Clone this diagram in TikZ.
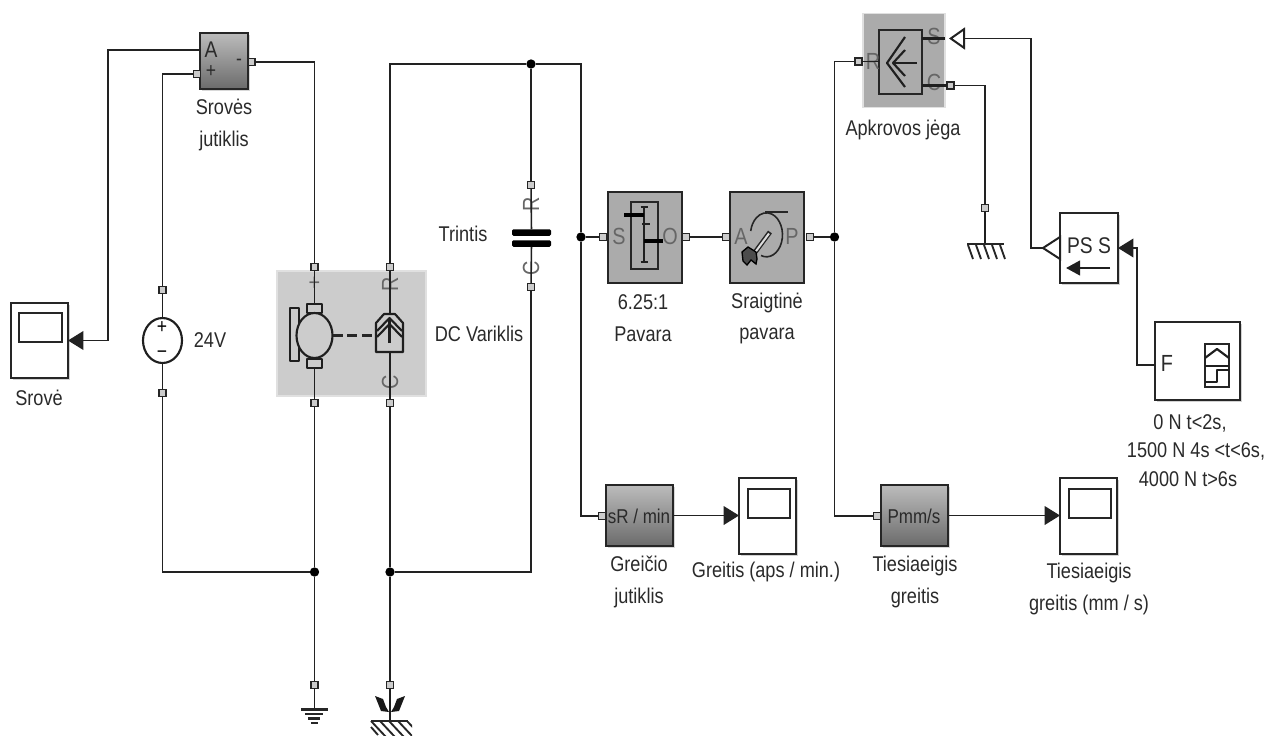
\documentclass[tikz,border=0pt]{standalone}
\usepackage{fontspec}
\setmainfont[FakeStretch=0.85]{Liberation Sans}
\usetikzlibrary{arrows.meta,shadows,shapes.geometric}
\definecolor{txt}{HTML}{2A2A2A}
\definecolor{ptxt}{HTML}{666666}
\definecolor{mid}{HTML}{ABABAB}
\definecolor{lite}{HTML}{CCCCCC}
\definecolor{wirec}{HTML}{222222}
\tikzset{
  sz/.style 2 args={minimum width=#1*0.75pt,minimum height=#2*0.75pt,inner sep=0pt,outer sep=0pt},
  wire/.style={draw=wirec,line width=1.05pt,line join=miter},
  sym/.style={draw=black!88,line width=1.6pt,line join=round},
  port/.style={draw=black!85,fill=lite,line width=1.25pt,minimum size=5.4pt,inner sep=0pt,outer sep=0pt},
  junc/.style={circle,fill=black,minimum size=7pt,inner sep=0pt,outer sep=0pt},
  lbl/.style={text=txt,font=\fontsize{16}{18}\selectfont,inner sep=0pt,align=center},
  ptext/.style={text=ptxt,font=\fontsize{17.5}{18}\selectfont,inner sep=0pt},
  btext/.style={text=txt,font=\fontsize{15.5}{18}\selectfont,inner sep=0pt},
  sens/.style={draw=black!85,line width=1.5pt,top color=mid!80!white,bottom color=black!58,drop shadow={shadow xshift=1.5pt,shadow yshift=-1.5pt,opacity=.3}},
  gblock/.style={draw=black!85,line width=1.5pt,fill=mid},
  sblock/.style={draw=black!85,line width=1.5pt,fill=white,drop shadow={shadow xshift=1.5pt,shadow yshift=-1.5pt,opacity=.35}},
  inner box/.style={draw=black!85,line width=1.5pt,fill=none},
  sig/.style={wire,-{Triangle[length=11.5pt,width=14pt]}},
  psig/.style={wire,-{Triangle[open,length=12pt,width=16.5pt,line width=1.5pt]}},
}
\begin{document}
\begin{tikzpicture}[x=0.75pt,y=-0.75pt]
\useasboundingbox (0,0) rectangle (1269,735);
\fill[white] (0,0) rectangle (1269,735);

% --- blocks
\node[sblock,sz={57}{75}] (srove) at (39.5,340.5) {};
\node[inner box,sz={43}{29}] (sroveS) at (40.5,327.5) {};
\node[lbl] (lSrove) at (39,398) {Srovė};

\node[sens,sz={48}{56}] (cur) at (224,61) {};
\node[btext,font=\fontsize{17}{18}\selectfont] (curA) at (211,50) {A};
\node[btext] (curP) at (211,72) {+};
\node[btext] (curM) at (239,62) {-};
\coordinate (curOut) at (200,50);
\node[lbl] (lCur) at (224,125) {Srovės\\[5.5pt]jutiklis};

% voltage source
\node[draw=black!88,line width=1.6pt,ellipse,sz={39}{45},fill=white] (vs) at (162.5,340.5) {};
\node[btext,text=black] (vsP) at (162,328) {+};
\node[btext,text=black] (vsM) at (162,355) {−};
\node[lbl] (l24) at (210,340) {24V};

% DC motor
\node[draw=white!88!black,line width=1.2pt,fill=lite,sz={149}{125}] (dc) at (351.5,333.5) {};
\node[sym,fill=lite,sz={9}{53}] (field) at (294.5,334.5) {};
\node[sym,fill=lite,sz={15}{9}] (brT) at (314.5,308.5) {};
\node[sym,fill=lite,sz={15}{9}] (brB) at (314.5,363.5) {};
\node[sym,ellipse,fill=lite,sz={36}{45}] (arm) at (314.5,335.5) {};
\path[sym,fill=lite] (376,352) -- (376,323) -- (384,314) -- (395,314) -- (403,323) -- (403,352) -- cycle;
\coordinate (shaftL) at (376,335.5);
\draw[sym] (377,331) -- (389.5,318) -- (402,331);
\draw[sym] (377,337) -- (389.5,324) -- (402,337);
\draw[sym] (389.5,343) -- (389.5,320);
\draw[black!85,line width=1.7pt,dash pattern=on 7.5pt off 3.5pt] (arm.east) -- (shaftL);
\node[ptext] (dcP) at (314.5,284) {+};
\node[ptext,rotate=90] (dcR) at (390,284) {R};
\node[ptext,rotate=90] (dcC) at (390,382) {C};
\node[lbl] (lDc) at (479,334) {DC Variklis};

% friction clutch
\node[ptext,rotate=90] (trR) at (531,204) {R};
\node[ptext,rotate=90] (trC) at (531,268) {C};
\node[fill=black,rounded corners=1pt,sz={39}{6.5}] (plateT) at (531.5,232.5) {};
\node[fill=black,rounded corners=1pt,sz={39}{6.5}] (plateB) at (531.5,243.5) {};
\node[lbl] (lTr) at (463,234) {Trintis};

% gear
\node[gblock,sz={74}{91}] (gear) at (645,237.5) {};
\node[inner box,line width=1.2pt,sz={27}{67}] (gearI) at (644.5,235.5) {};
\draw[sym,line width=1.1pt] (644,207) -- (644,262) (640.5,207) -- (648,207) (640.5,262) -- (648,262) (642,224) -- (650,224);
\draw[black,line width=3.2pt] (624,215) -- (644,215);
\draw[black,line width=3.2pt] (644,241) -- (663,241);
\node[ptext] (gS) at (619,236) {S};
\node[ptext] (gO) at (670,236) {O};
\node[lbl] (lGear) at (643,318) {6.25:1\\[5.5pt]Pavara};

% lead screw
\node[gblock,sz={74}{91}] (screw) at (767,237.5) {};
\node[ptext] (sA) at (741,236) {A};
\node[ptext] (sP) at (792,236) {P};
\draw[black!85,line width=1.2pt] (761,255.5) arc[start angle=110,end angle=-170,x radius=16,y radius=22];
\draw[black!85,line width=1.2pt] (765,212) -- (788,212);
\draw[black!85,line width=3.6pt] (770,232) -- (753,255);
\draw[mid!40!white,line width=1.5pt] (769,233.5) -- (755,252.5);
\draw[black,line width=1pt,fill=black!70] (742,252) -- (748,247) -- (756,252) -- (757,259) -- (756,264) -- (751,260) -- (747,265) -- (743,261) -- cycle;
\node[lbl] (lScrew) at (767,318.5) {Sraigtinė\\[5.5pt]pavara};

% load force source
\node[draw=white!88!black,line width=1.2pt,fill=mid,sz={82}{94}] (load) at (904,60.5) {};
\node[inner box,sz={43}{64}] (loadI) at (900.5,62) {};
\draw[sym] (905,37) -- (887,63) -- (905,87);
\draw[sym] (905,50) -- (893,63) -- (905,76);
\draw[sym] (893,63) -- (917,63);
\node[ptext] (loadR) at (873,61) {R};
\node[ptext] (loadS) at (934,36) {S};
\node[ptext] (loadC) at (934,82) {C};
\coordinate (loadIn) at (949,38.5);
\node[lbl] (lLoad) at (903,130) {Apkrovos jėga};

% PS-S converter
\node[sblock,sz={58}{70}] (pss) at (1089,248) {};
\node[btext,font=\fontsize{17}{18}\selectfont] (pssT) at (1089,246) {PS S};
\draw[sym,-{Triangle[length=10.5pt,width=11pt]}] (1110,268) -- (1066,268);
\coordinate (pssTip) at (1043,248);
\draw[wire,line width=1.5pt,fill=white] (pss.west |- 0,237) -- (pssTip) -- (pss.west |- 0,259) -- cycle;

% force source
\node[sblock,sz={85}{78}] (src) at (1197.5,361) {};
\node[ptext,text=txt] (srcF) at (1167,363) {F};
\node[inner box,sz={24}{43}] (srcI) at (1217,365.5) {};
\draw[sym] (1205,366) -- (1229,366);
\draw[sym] (1205,358) -- (1217,349) -- (1229,358);
\draw[sym] (1205,382) -- (1217,382) -- (1217,370) -- (1229,370);
\coordinate (srcOut) at (1155,365);
\node[lbl] (lSrc1) at (1190,423) {0 N t<2s,};
\node[lbl] (lSrc2) at (1196,451) {1500 N 4s <t<6s,};
\node[lbl] (lSrc3) at (1188,479) {4000 N t>6s};

% sensors and scopes below
\node[sens,sz={67}{61}] (rs) at (639.5,515.5) {};
\node[btext,font=\fontsize{15}{18}\selectfont] (rsT) at (639,516) {sR / min};
\node[sblock,sz={57}{76}] (sc1) at (767.5,515.5) {};
\node[inner box,sz={42}{29}] (sc1I) at (769,503.5) {};
\node[lbl] (lRs) at (639,582) {Greičio\\[5.5pt]jutiklis};
\node[lbl] (lSc1) at (766,572) {Greitis (aps / min.)};

\node[sens,sz={67}{61}] (ps) at (914,515.5) {};
\node[btext,font=\fontsize{15}{18}\selectfont] (psT) at (914,516) {Pmm/s};
\node[sblock,sz={57}{76}] (sc2) at (1088.5,515.5) {};
\node[inner box,sz={42}{29}] (sc2I) at (1090,503.5) {};
\node[lbl] (lPs) at (915,582) {Tiesiaeigis\\[5.5pt]greitis};
\node[lbl] (lSc2) at (1089,589) {Tiesiaeigis\\[5.5pt]greitis (mm / s)};

% --- ports
\node[port] (pCurP) at (197,74) {};
\node[port] (pCurM) at (251.5,62) {};
\node[port] (pVsP) at (162.5,290) {};
\node[port] (pVsM) at (162.5,393) {};
\node[port] (pDcP) at (314.5,267) {};
\node[port] (pDcR) at (390,267) {};
\node[port] (pDcN) at (314.5,403) {};
\node[port] (pDcC) at (390,403) {};
\node[port] (pTrR) at (531,185) {};
\node[port] (pTrC) at (531,287) {};
\node[port] (pGS) at (603,237) {};
\node[port] (pGO) at (686,237) {};
\node[port] (pSA) at (726,237) {};
\node[port] (pSP) at (810,237) {};
\node[port] (pLR) at (858.5,61.5) {};
\node[port] (pLC) at (950.5,85.5) {};
\node[port] (pGnd) at (985,208) {};
\node[port] (pRs) at (602,516) {};
\node[port] (pPs) at (877,516) {};
\node[port] (pEl) at (314.5,685) {};
\node[port] (pMe) at (390,685) {};

% --- junctions
\node[junc] (jTop) at (531,64) {};
\node[junc] (jGS) at (581,237) {};
\node[junc] (jSP) at (834.5,237) {};
\node[junc] (jEl) at (314.5,572) {};
\node[junc] (jMe) at (390,572) {};

% --- stubs through the blocks
\draw[sym,line width=1.2pt] (pDcP) -- (brT) (brB) -- (pDcN);
\draw[sym,line width=1.2pt] (pDcR) -- (390,314) (390,352) -- (pDcC);
\draw[sym,line width=1.2pt] (pTrR) -- (plateT) (plateB) -- (pTrC);
\draw[sym,line width=1.2pt] (pVsP) -- (vs) (vs) -- (pVsM);
\draw[sym,line width=1.2pt] (pLR) -- (loadI.west |- pLR);
\draw[sym] (loadI.east |- loadIn) -- (945,38.5);
\draw[sym] (loadI.east |- pLC) -- (pLC);

% --- connectors
\draw[sig] (curOut) -- ++(-92,0) |- (srove.east);
\draw[wire] (pCurP) -| (pVsP);
\draw[wire] (pCurM) -| (pDcP);
\draw[wire] (pVsM) |- (jEl);
\draw[wire] (pDcN) -- (jEl);
\draw[wire] (jEl) -- (pEl);
\draw[wire] (pDcR) |- (jTop);
\draw[wire] (jTop) -- (pTrR);
\draw[wire] (pTrC) |- (jMe);
\draw[wire] (pDcC) -- (jMe);
\draw[wire] (jMe) -- (pMe);
\draw[wire] (jTop) -| (jGS);
\draw[wire] (jGS) -- (pGS);
\draw[wire] (jGS) |- (pRs);
\draw[wire] (pGO) -- (pSA);
\draw[wire] (pSP) -- (jSP);
\draw[wire] (jSP) |- (pLR);
\draw[wire] (jSP) |- (pPs);
\draw[wire] (pLC) -| (pGnd);
\draw[sig] (rs.east) -- (sc1.west);
\draw[sig] (ps.east) -- (sc2.west);
\draw[psig] (pssTip) -- ++(-12,0) |- (loadIn);
\draw[sig] (srcOut) -- ++(-18,0) |- (pss.east);

% --- electrical ground
\draw[sym,line width=1.2pt] (pEl) -- (314.5,709);
\draw[black!85,line width=1.8pt] (301,709.5) -- (328,709.5);
\draw[black!85,line width=1.8pt] (305,714) -- (323,714);
\draw[black!85,line width=1.8pt] (308,718.5) -- (320,718.5);
\draw[black!85,line width=1.8pt] (311,723) -- (318,723);

% --- mechanical rotational ground
\draw[sym,line width=1.2pt] (pMe) -- (390,721);
\fill[black!90] (375,696) -- (383,699) -- (386,707) -- (389,712) -- (381,711) -- cycle;
\fill[black!90] (405,696) -- (397,699) -- (394,707) -- (391,712) -- (399,711) -- cycle;
\draw[black!85,line width=1.4pt] (371,721) -- (408,721);
\begin{scope}
\clip (365,721) rectangle (412,735);
\foreach \hx in {371,380,389,398,407}{\draw[black!85,line width=1.4pt] (\hx,721) -- ++(15,16);}
\end{scope}
\draw[black!85,line width=1.4pt] (371,727) -- (378,735);

% --- translational ground
\draw[sym,line width=1.2pt] (pGnd) -- (985,244);
\draw[black!85,line width=1.5pt] (967,244) -- (1004,244);
\foreach \hx in {968,976,984,992,1000}{\draw[black!85,line width=1.4pt] (\hx,245) -- ++(5,14);}
\end{tikzpicture}
\end{document}
